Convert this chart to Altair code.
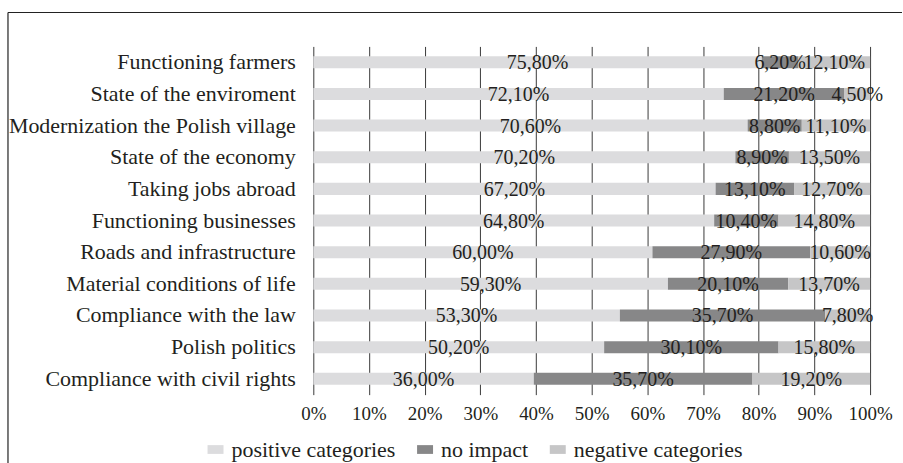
import altair as alt
import pandas as pd

# Survey items, top to bottom
items = [
    "Functioning farmers",
    "State of the enviroment",
    "Modernization the Polish village",
    "State of the economy",
    "Taking jobs abroad",
    "Functioning businesses",
    "Roads and infrastructure",
    "Material conditions of life",
    "Compliance with the law",
    "Polish politics",
    "Compliance with civil rights",
]

positive = [75.8, 72.1, 70.6, 70.2, 67.2, 64.8, 60.0, 59.3, 53.3, 50.2, 36.0]
no_impact = [6.2, 21.2, 8.8, 8.9, 13.1, 10.4, 27.9, 20.1, 35.7, 30.1, 35.7]
negative = [12.1, 4.5, 11.1, 13.5, 12.7, 14.8, 10.6, 13.7, 7.8, 15.8, 19.2]

groups = ["positive categories", "no impact", "negative categories"]
colors = ["#dcdcde", "#878788", "#c6c6c7"]

rows = []
for i, item in enumerate(items):
    for k, (g, vals) in enumerate(zip(groups, [positive, no_impact, negative])):
        v = vals[i]
        rows.append({
            "item": item,
            "group": g,
            "order": k,
            "value": v,
            "label": f"{v:.2f}".replace(".", ",") + "%",
        })
df = pd.DataFrame(rows)

FONT = "Liberation Serif"
TXT = "#231f20"

base = alt.Chart(df).transform_joinaggregate(
    total="sum(value)", groupby=["item"]
).transform_window(
    cum="sum(value)", groupby=["item"], sort=[alt.SortField("order")], frame=[None, 0]
).transform_calculate(
    start="(datum.cum - datum.value) / datum.total",
    end="datum.cum / datum.total",
    mid="(datum.cum - datum.value / 2) / datum.total",
)

y_enc = alt.Y(
    "item:N",
    sort=items,
    title=None,
    scale=alt.Scale(paddingInner=0.62, paddingOuter=0.31),
    axis=alt.Axis(
        labelFont=FONT, labelFontSize=22, labelColor=TXT, labelPadding=18,
        ticks=False, domain=False, labelLimit=400,
    ),
)

x_scale = alt.Scale(domain=[0, 1], nice=False)
x_axis = alt.Axis(
    values=[i / 10 for i in range(11)], format=".0%",
    labelFont=FONT, labelFontSize=19, labelColor=TXT,
    ticks=False, domain=False, labelPadding=10, labelOverlap=False,
    labelFlush=False,
    grid=True, gridColor="#3a3a3a", gridWidth=1, gridOpacity=1,
)

bars = base.mark_bar().encode(
    x=alt.X("start:Q", scale=x_scale, title=None, axis=x_axis),
    x2="end:Q",
    y=y_enc,
    color=alt.Color(
        "group:N",
        scale=alt.Scale(domain=groups, range=colors),
        sort=groups,
        legend=alt.Legend(
            title=None, orient="none", direction="horizontal",
            legendX=-109, legendY=393,
            labelFont=FONT, labelFontSize=22, labelColor=TXT, labelLimit=0,
            symbolType="M-1,-0.55H1V0.55H-1Z", symbolSize=256,
            symbolStrokeWidth=0, symbolOpacity=1, labelOffset=5,
            columnPadding=18,
        ),
    ),
    order=alt.Order("order:Q"),
)

labels = base.mark_text(
    font=FONT, fontSize=20, color=TXT, baseline="middle", dy=1
).encode(
    x=alt.X("mid:Q", scale=x_scale, title=None, axis=x_axis),
    y=alt.Y("item:N", sort=items, title=None),
    text="label:N",
)

# outer frame lines (top and left edges)
frame_top = alt.Chart(pd.DataFrame({"k": [0]})).mark_rule(
    color="#222222", strokeWidth=1.2
).encode(x=alt.value(-306), x2=alt.value(590), y=alt.value(-34))
frame_left = alt.Chart(pd.DataFrame({"k": [0]})).mark_rule(
    color="#222222", strokeWidth=1.2
).encode(x=alt.value(-306), y=alt.value(-34), y2=alt.value(418))

chart = alt.layer(bars, labels, frame_top, frame_left).properties(
    width=558, height=349, padding={"left": 7, "top": 11, "right": 0, "bottom": 0},
    background="white",
).configure_view(
    stroke=None
).configure_text(
    font=FONT
).configure_axis(
    labelFont=FONT
).configure_legend(
    labelFont=FONT
)

chart.save("out.html", embed_options={"renderer": "svg", "actions": False})
